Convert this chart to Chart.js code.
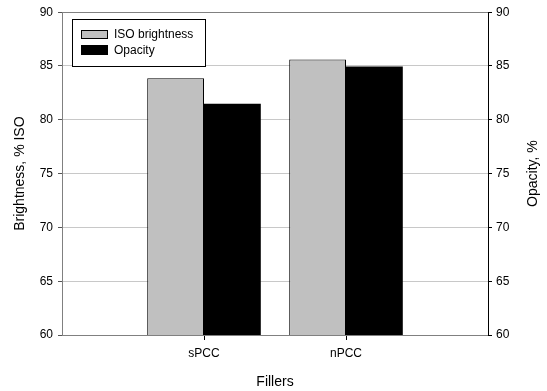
<!DOCTYPE html>
<html>
<head>
<meta charset="utf-8">
<script src="https://cdn.jsdelivr.net/npm/chart.js@4/dist/chart.umd.min.js"></script>
<style>
html,body{margin:0;padding:0;background:#fff;}
#wrap{position:relative;width:547px;height:391px;}
</style>
</head>
<body>
<div id="wrap"><canvas id="c" width="547" height="391"></canvas></div>
<script>
const categories = ['', 'sPCC', 'nPCC', ''];
const brightness = [null, 83.85, 85.6, null];
const opacity = [null, 81.5, 84.95, null];
const seriesNames = ['ISO brightness', 'Opacity'];
const xTitle = 'Fillers';
const yLeftTitle = 'Brightness, % ISO';
const yRightTitle = 'Opacity, %';
const yMin = 60, yMax = 90, yStep = 5;

const FONT = 'Liberation Sans, Arial, sans-serif';

const legendPlugin = {
  id: 'boxLegend',
  afterDraw(chart) {
    const ctx = chart.ctx;
    ctx.save();
    // box
    ctx.strokeStyle = '#000';
    ctx.lineWidth = 1;
    ctx.fillStyle = '#fff';
    ctx.fillRect(72, 19, 134, 48);
    ctx.strokeRect(72.5, 19.5, 133, 47);
    const ds = chart.data.datasets;
    const rows = [{y: 30, h: 9}, {y: 45, h: 10}];
    ds.forEach((d, i) => {
      const r = rows[i];
      ctx.fillStyle = d.backgroundColor;
      ctx.fillRect(81, r.y, 27, r.h);
      ctx.strokeStyle = '#000';
      ctx.strokeRect(81.5, r.y + 0.5, 26, r.h - 1);
      ctx.fillStyle = '#000';
      ctx.font = '12px ' + FONT;
      ctx.textBaseline = 'middle';
      ctx.textAlign = 'left';
      ctx.fillText(d.label, 114, r.y + r.h / 2 + 0.5);
    });
    // right axis title, reading bottom-to-top
    const ca = chart.chartArea;
    ctx.translate(533, (ca.top + ca.bottom) / 2);
    ctx.rotate(-Math.PI / 2);
    ctx.font = '14px ' + FONT;
    ctx.textAlign = 'center';
    ctx.textBaseline = 'middle';
    ctx.fillStyle = '#000';
    ctx.fillText(yRightTitle, 0, 0);
    ctx.restore();
  }
};

new Chart(document.getElementById('c'), {
  type: 'bar',
  data: {
    labels: categories,
    datasets: [
      {label: seriesNames[0], data: brightness, yAxisID: 'y', backgroundColor: '#c0c0c0', borderColor: '#000', borderWidth: 1, borderSkipped: 'bottom'},
      {label: seriesNames[1], data: opacity, yAxisID: 'y1', backgroundColor: '#000000', borderColor: '#000', borderWidth: 0}
    ]
  },
  options: {
    responsive: false,
    animation: false,
    devicePixelRatio: 1,
    layout: {padding: {top: 10, left: 0, right: 0, bottom: 0}},
    datasets: {bar: {barPercentage: 1.0, categoryPercentage: 0.8}},
    plugins: {legend: {display: false}, tooltip: {enabled: false}},
    scales: {
      x: {
        offset: false,
        grid: {
          offset: false,
          drawOnChartArea: false,
          tickLength: 5,
          tickColor: (c) => (c.tick && c.tick.label) ? '#000' : 'rgba(0,0,0,0)'
        },
        border: {color: '#808080', width: 1},
        ticks: {color: '#000', font: {family: FONT, size: 12}, padding: 6, autoSkip: false, maxRotation: 0},
        title: {display: true, text: xTitle, color: '#000', font: {family: FONT, size: 14}, padding: {top: 10, bottom: 0}},
        afterFit(s) { s.height = 56; }
      },
      y: {
        position: 'left',
        min: yMin, max: yMax,
        ticks: {stepSize: yStep, color: '#000', font: {family: FONT, size: 12}, padding: 5},
        grid: {
          tickLength: 4,
          tickColor: '#555',
          color: (c) => c.tick.value === yMax ? '#808080' : (c.tick.value === yMin ? 'rgba(0,0,0,0)' : '#c8c8c8'),
          lineWidth: 1
        },
        border: {color: '#808080', width: 1},
        title: {display: true, text: yLeftTitle, color: '#000', font: {family: FONT, size: 14}, padding: {top: 12, bottom: 0}},
        afterFit(s) { s.width = 62; }
      },
      y1: {
        position: 'right',
        min: yMin, max: yMax,
        ticks: {stepSize: yStep, color: '#000', font: {family: FONT, size: 12}, padding: 4},
        grid: {drawOnChartArea: false, tickLength: 4, tickColor: '#000'},
        border: {color: '#000', width: 1},
        afterFit(s) { s.width = 59; }
      }
    }
  },
  plugins: [legendPlugin]
});
</script>
</body>
</html>
